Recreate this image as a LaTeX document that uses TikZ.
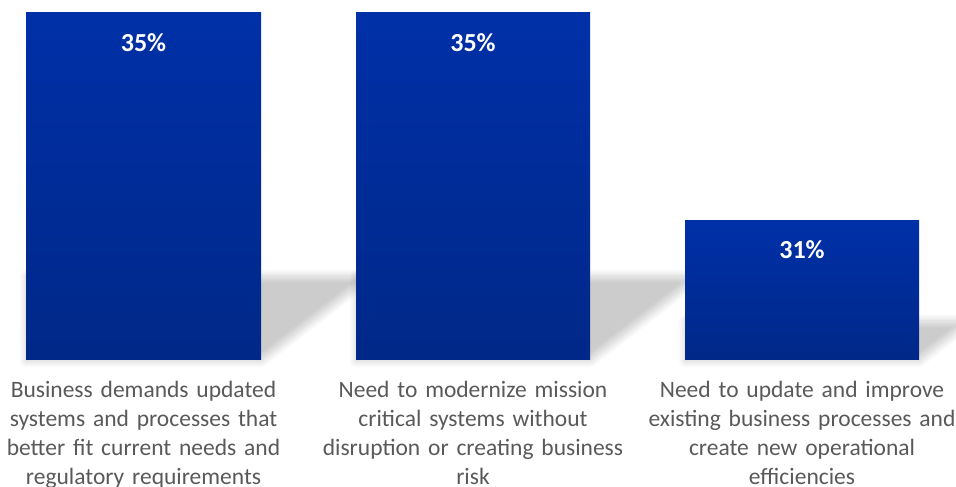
\documentclass[tikz,border=0pt]{standalone}
\usepackage{fontspec}
\setmainfont{Carlito}
\usetikzlibrary{shadows.blur}
\definecolor{bartop}{RGB}{0,48,168}
\definecolor{barbot}{RGB}{0,40,136}
\definecolor{labelc}{RGB}{89,89,89}
\begin{document}
\begin{tikzpicture}[x=1pt,y=1pt,
  barbox/.style={top color=bartop,bottom color=barbot,draw=none},
  pct/.style={text=white,font=\fontsize{26}{30}\selectfont\bfseries,inner sep=0pt},
  cat/.style={text=labelc,font=\fontsize{23.5}{29}\selectfont,align=center,text width=330pt,inner sep=0pt,anchor=north},
  shad/.style={blur shadow={shadow xshift=0pt,shadow yshift=0pt,shadow blur radius=7pt,shadow blur steps=12,shadow opacity=20}}]
\useasboundingbox (0,0) rectangle (956,487);
% shadows
\foreach \xa/\xb/\h in {26/261/85, 356/590/85, 685/919/40}{
  \pgfmathsetmacro{\dx}{1.3*\h}
  \path[shad] (\xa,126) -- (\xb,126) -- (\xb+\dx,126+\h) -- (\xa,126+\h) -- cycle;
}
% bars
\path[barbox] (26,127) rectangle (261,474);
\path[barbox] (356,127) rectangle (590,474);
\path[barbox] (685,127) rectangle (919,266);
\node[pct] (p1) at (143.5,444) {35\%};
\node[pct] (p2) at (473,444) {35\%};
\node[pct] (p3) at (802,237) {31\%};
\node[cat] (c1) at (143.5,106) {Business demands updated\\systems and processes that\\better fit current needs and\\regulatory requirements};
\node[cat] (c2) at (473,106) {Need to modernize mission\\critical systems without\\disruption or creating business\\risk};
\node[cat] (c3) at (802,106) {Need to update and improve\\existing business processes and\\create new operational\\efficiencies};
\end{tikzpicture}
\end{document}
